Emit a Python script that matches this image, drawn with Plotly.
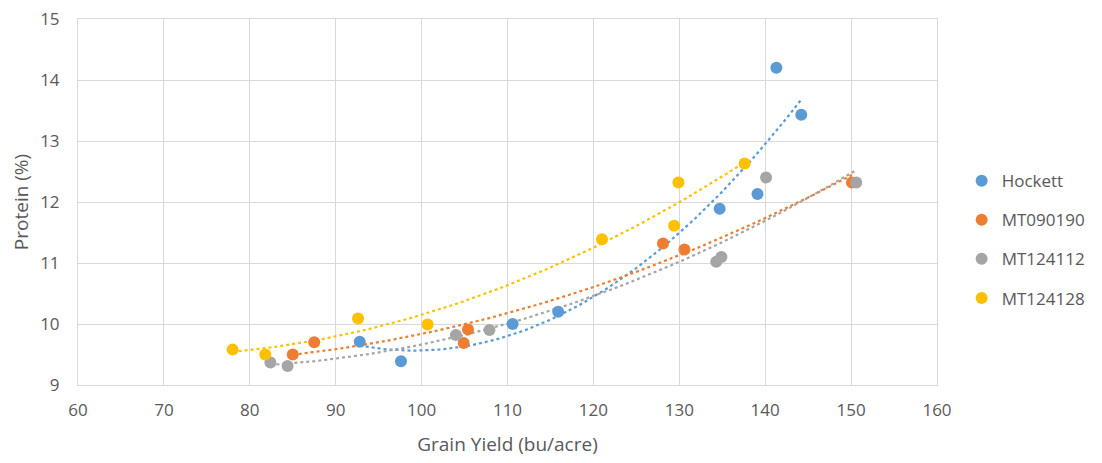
import numpy as np
import plotly.graph_objects as go

series_names = ["Hockett", "MT090190", "MT124112", "MT124128"]
colors = ["#5B9BD5", "#ED7D31", "#A5A5A5", "#FFC000"]

hockett_x = [92.8, 97.6, 110.6, 115.9, 134.7, 139.1, 141.3, 144.2]
hockett_y = [9.71, 9.39, 10.0, 10.2, 11.89, 12.13, 14.2, 13.43]

mt090190_x = [85.0, 87.5, 104.9, 105.4, 128.1, 130.6, 150.1]
mt090190_y = [9.5, 9.7, 9.69, 9.91, 11.32, 11.22, 12.32]

mt124112_x = [82.4, 84.4, 104.0, 107.9, 134.3, 134.9, 140.1, 150.6]
mt124112_y = [9.37, 9.31, 9.82, 9.90, 11.02, 11.1, 12.40, 12.32]

mt124128_x = [78.0, 81.8, 92.6, 100.7, 121.0, 129.4, 129.9, 137.6]
mt124128_y = [9.58, 9.5, 10.09, 9.99, 11.39, 11.61, 12.32, 12.63]

xs = [hockett_x, mt090190_x, mt124112_x, mt124128_x]
ys = [hockett_y, mt090190_y, mt124112_y, mt124128_y]

x_ticks = list(range(60, 161, 10))
y_ticks = list(range(9, 16))

fig = go.Figure()

# polynomial (order 2) trendlines, fitted from the data
for name, c, x, y in zip(series_names, colors, xs, ys):
    coef = np.polyfit(x, y, 2)
    tx = np.linspace(min(x), max(x), 80)
    ty = np.polyval(coef, tx)
    fig.add_trace(go.Scatter(x=tx, y=ty, mode="lines",
                             line=dict(color=c, width=2.2, dash="dot"),
                             showlegend=False, hoverinfo="skip"))

for name, c, x, y in zip(series_names, colors, xs, ys):
    fig.add_trace(go.Scatter(x=x, y=y, mode="markers", name=name,
                             legendgroup=name,
                             marker=dict(color=c, size=12, line=dict(width=0))))

grid = "#D9D9D9"
fam = "Open Sans, Liberation Sans, sans-serif"
tickfont = dict(family=fam, size=17, color="#595959")
titlefont = dict(family=fam, size=19, color="#595959")

fig.update_layout(
    width=1094, height=455,
    margin=dict(l=70, r=165, t=11, b=78, autoexpand=False),
    paper_bgcolor="white", plot_bgcolor="white",
    font=dict(family=fam, color="#595959"),
    legend=dict(xref="container", yref="container",
                x=0.8717, xanchor="left", y=0.491, yanchor="middle",
                font=dict(size=17, color="#595959"),
                tracegroupgap=14, itemwidth=30, bgcolor="rgba(0,0,0,0)"),
    xaxis=dict(range=[60, 160], tickvals=x_ticks, ticktext=[str(v) for v in x_ticks],
               showgrid=True, gridcolor=grid, gridwidth=1, zeroline=False,
               showline=True, linecolor=grid, mirror="all", linewidth=1,
               tickfont=tickfont, ticks="", ticklabelstandoff=10, automargin=False,
               ticklabeloverflow="allow",
               title=dict(text="Grain Yield (bu/acre)", font=titlefont, standoff=17)),
    yaxis=dict(range=[9, 15], tickvals=y_ticks, ticktext=[str(v) for v in y_ticks],
               showgrid=True, gridcolor=grid, gridwidth=1, zeroline=False,
               showline=True, linecolor=grid, mirror="all", linewidth=1,
               tickfont=tickfont, ticks="", ticklabelstandoff=14, automargin=False,
               ticklabeloverflow="allow",
               title=dict(text="Protein (%)", font=titlefont, standoff=8)),
)

fig.write_html("out.html")
